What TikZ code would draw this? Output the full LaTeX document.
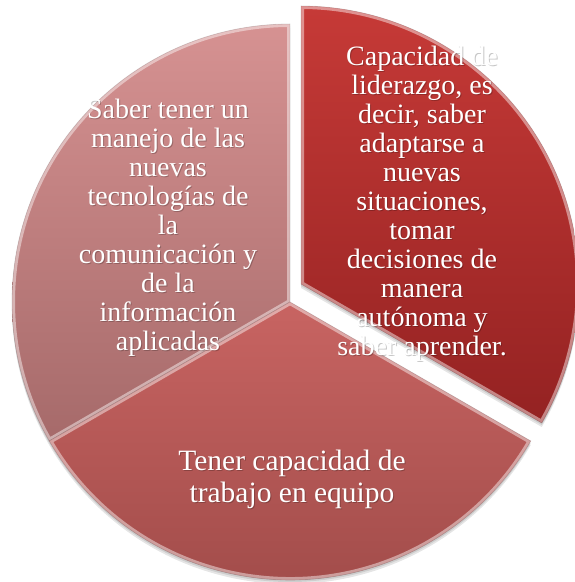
\documentclass[tikz,border=0pt]{standalone}
\usepackage{fontspec}
\setmainfont{Liberation Serif}
\begin{document}
\begin{tikzpicture}[x=1pt,y=1pt]
\useasboundingbox (0,0) rectangle (574,582);
\def\R{278}
\coordinate (C) at (290,280);
\coordinate (E) at (301,298);
\definecolor{lTop}{RGB}{214,146,146}
\definecolor{lBot}{RGB}{166,106,106}
\definecolor{bTop}{RGB}{200,100,98}
\definecolor{bBot}{RGB}{158,74,72}
\definecolor{rTop}{RGB}{198,58,55}
\definecolor{rBot}{RGB}{148,34,34}
\tikzset{
  lbl/.style={text=white, align=center, inner sep=0pt},
  lblshadow/.style={text=black, opacity=0.22, align=center, inner sep=0pt},
  dropsh/.style={fill=black, opacity=0.10},
  hilite/.style={draw=white, opacity=0.45, line width=6pt},
  rim/.style={draw=black, opacity=0.12, line width=0.8pt},
}
% soft shadows
\fill[dropsh] ([yshift=-4pt]C) -- ++(90:\R) arc (90:330:\R) -- cycle;
\fill[dropsh] ([yshift=-2pt]C) -- ++(90:\R) arc (90:330:\R) -- cycle;
\fill[dropsh] ([yshift=-4pt]E) -- ++(-30:\R) arc (-30:90:\R) -- cycle;
\fill[dropsh] ([yshift=-2pt]E) -- ++(-30:\R) arc (-30:90:\R) -- cycle;
% left slice
\path[top color=lTop, bottom color=lBot] (C) -- ++(90:\R) arc (90:210:\R) -- cycle;
\begin{scope}
  \clip (C) -- ++(90:\R) arc (90:210:\R) -- cycle;
  \path[hilite] (C) -- ++(90:\R) arc (90:210:\R) -- cycle;
\end{scope}
\path[rim] (C) -- ++(90:\R) arc (90:210:\R) -- cycle;
% bottom slice
\path[top color=bTop, bottom color=bBot] (C) -- ++(210:\R) arc (210:330:\R) -- cycle;
\begin{scope}
  \clip (C) -- ++(210:\R) arc (210:330:\R) -- cycle;
  \path[hilite] (C) -- ++(210:\R) arc (210:330:\R) -- cycle;
\end{scope}
\path[rim] (C) -- ++(210:\R) arc (210:330:\R) -- cycle;
% exploded slice
\path[top color=rTop, bottom color=rBot] (E) -- ++(-30:\R) arc (-30:90:\R) -- cycle;
\begin{scope}
  \clip (E) -- ++(-30:\R) arc (-30:90:\R) -- cycle;
  \path[hilite] (E) -- ++(-30:\R) arc (-30:90:\R) -- cycle;
\end{scope}
\path[rim] (E) -- ++(-30:\R) arc (-30:90:\R) -- cycle;
% texts
\node[lblshadow, font=\fontsize{28}{29}\selectfont] (trs) at (423,377) {Capacidad de\\liderazgo, es\\decir, saber\\adaptarse a\\nuevas\\situaciones,\\tomar\\decisiones de\\manera\\autónoma y\\saber aprender.};
\node[lbl, font=\fontsize{28}{29}\selectfont] (tr) at (422,378) {Capacidad de\\liderazgo, es\\decir, saber\\adaptarse a\\nuevas\\situaciones,\\tomar\\decisiones de\\manera\\autónoma y\\saber aprender.};
\node[lblshadow, font=\fontsize{28}{29}\selectfont] (lts) at (169,353) {Saber tener un\\manejo de las\\nuevas\\tecnologías de\\la\\comunicación y\\de la\\información\\aplicadas};
\node[lbl, font=\fontsize{28}{29}\selectfont] (lt) at (168,354) {Saber tener un\\manejo de las\\nuevas\\tecnologías de\\la\\comunicación y\\de la\\información\\aplicadas};
\node[lblshadow, font=\fontsize{29.5}{32}\selectfont] (bts) at (293,102) {Tener capacidad de\\trabajo en equipo};
\node[lbl, font=\fontsize{29.5}{32}\selectfont] (bt) at (292,103) {Tener capacidad de\\trabajo en equipo};
\end{tikzpicture}
\end{document}
